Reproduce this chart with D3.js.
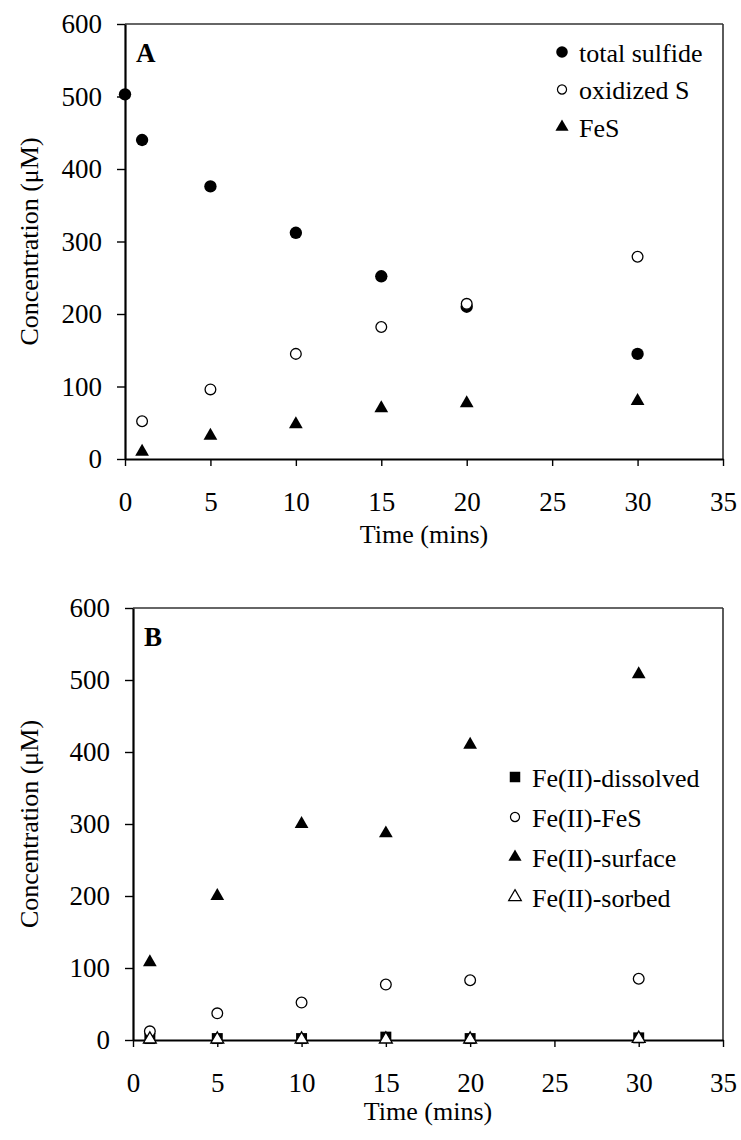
<!DOCTYPE html>
<html><head><meta charset="utf-8">
<script src="https://cdn.jsdelivr.net/npm/d3@7"></script>
<style>body{margin:0;background:#fff}svg{display:block}text{font-family:"Liberation Serif","Times New Roman",serif;fill:#000}</style>
</head><body><svg id="c" width="741" height="1140"></svg>
<script>
const times = [0, 1, 5, 10, 15, 20, 30];
const xTicks = [0, 5, 10, 15, 20, 25, 30, 35];
const yTicks = [0, 100, 200, 300, 400, 500, 600];
// Panel A
const totalSulfideT = [0, 1, 5, 10, 15, 20, 30];
const totalSulfide = [503, 440, 376, 312, 252, 210, 145];
const oxidizedST = [1, 5, 10, 15, 20, 30];
const oxidizedS = [52, 96, 145, 182, 214, 279];
const fesT = [1, 5, 10, 15, 20, 30];
const fes = [10, 32, 48, 70, 77, 80];
// Panel B
const bT = [1, 5, 10, 15, 20, 30];
const fe2Dissolved = [2, 2, 2, 4, 2, 3];
const fe2FeS = [12, 37, 52, 77, 83, 85];
const fe2Surface = [108, 200, 300, 287, 410, 508];
const fe2Sorbed = [1, 1, 1, 1, 1, 2];
const legendA = ["total sulfide", "oxidized S", "FeS"];
const legendB = ["Fe(II)-dissolved", "Fe(II)-FeS", "Fe(II)-surface", "Fe(II)-sorbed"];

const svg = d3.select("#c");

const styles = {
  fcircle: {type: d3.symbolCircle, size: 120, fill: "#000", stroke: "none"},
  ocircle: {type: d3.symbolCircle, size: 90, fill: "#fff", stroke: "#000"},
  ftri: {type: d3.symbolTriangle, size: 82, fill: "#000", stroke: "none"},
  otri: {type: d3.symbolTriangle, size: 72, fill: "#fff", stroke: "#000"},
  fsquare: {type: d3.symbolSquare, size: 120, fill: "#000", stroke: "none"}
};
const legStyles = {
  fcircle: {type: d3.symbolCircle, size: 105, fill: "#000", stroke: "none"},
  ocircle: {type: d3.symbolCircle, size: 65, fill: "#fff", stroke: "#000"},
  ftri: {type: d3.symbolTriangle, size: 75, fill: "#000", stroke: "none"},
  otri: {type: d3.symbolTriangle, size: 70, fill: "#fff", stroke: "#000"},
  fsquare: {type: d3.symbolSquare, size: 110, fill: "#000", stroke: "none"}
};

function panel(cfg) {
  const x = d3.scaleLinear().domain([0, 35]).range([cfg.left, cfg.right]);
  const y = d3.scaleLinear().domain([0, 600]).range([cfg.bottom, cfg.top]);
  const g = svg.append("g");
  g.append("line").attr("x1", cfg.left).attr("x2", cfg.right).attr("y1", cfg.top).attr("y2", cfg.top).attr("stroke", "#333").attr("stroke-width", 1.6);
  g.append("line").attr("x1", cfg.right).attr("x2", cfg.right).attr("y1", cfg.top).attr("y2", cfg.bottom).attr("stroke", "#333").attr("stroke-width", 1.6);
  const xa = g.append("g").attr("transform", `translate(0,${cfg.bottom})`)
    .call(d3.axisBottom(x).tickValues(xTicks).tickSize(7).tickPadding(26).tickSizeOuter(0));
  const ya = g.append("g").attr("transform", `translate(${cfg.left},0)`)
    .call(d3.axisLeft(y).tickValues(yTicks).tickSize(8).tickPadding(15).tickSizeOuter(0));
  [xa, ya].forEach(a => {
    a.select(".domain").attr("stroke", "#000").attr("stroke-width", 2.2);
    a.selectAll(".tick line").attr("stroke", "#000").attr("stroke-width", 1.4);
    a.selectAll("text").style("font-family", '"Liberation Serif","Times New Roman",serif').style("font-size", "27px").attr("fill", "#000");
  });
  g.append("text").attr("x", (cfg.left + cfg.right) / 2).attr("y", cfg.bottom + cfg.titleOff)
    .attr("text-anchor", "middle").style("font-size", "26px").text("Time (mins)");
  g.append("text").attr("transform", `translate(${cfg.ytx},${(cfg.top + cfg.bottom) / 2}) rotate(-90)`)
    .attr("text-anchor", "middle").attr("dy", "0.35em").style("font-size", "26px").text("Concentration (μM)");
  g.append("text").attr("x", cfg.left + 11).attr("y", cfg.top + 38)
    .style("font-size", "27px").style("font-weight", "bold").text(cfg.label);
  cfg.series.forEach(s => {
    const st = styles[s.sty];
    const sym = d3.symbol().type(st.type).size(st.size);
    g.selectAll(null).data(s.v.map((v, i) => [s.t[i], v])).enter().append("path")
      .attr("d", sym).attr("transform", d => `translate(${x(d[0])},${y(d[1])})`)
      .attr("fill", st.fill).attr("stroke", st.stroke).attr("stroke-width", 1.3);
  });
  cfg.series.forEach((s, i) => {
    const st = legStyles[s.sty];
    const yy = cfg.legY + i * cfg.legDy;
    g.append("path").attr("d", d3.symbol().type(st.type).size(st.size))
      .attr("transform", `translate(${cfg.legX},${yy})`)
      .attr("fill", st.fill).attr("stroke", st.stroke).attr("stroke-width", 1.2);
    g.append("text").attr("x", cfg.legX + 17).attr("y", yy).attr("dy", "0.38em")
      .style("font-size", "26px").text(s.name);
  });
}

panel({
  left: 125, right: 723, top: 24, bottom: 459, ytx: 29, label: "A", titleOff: 84,
  legX: 562, legY: 52, legDy: 37.5,
  series: [
    {name: legendA[0], t: totalSulfideT, v: totalSulfide, sty: "fcircle"},
    {name: legendA[1], t: oxidizedST, v: oxidizedS, sty: "ocircle"},
    {name: legendA[2], t: fesT, v: fes, sty: "ftri"}
  ]
});
panel({
  left: 133, right: 723, top: 608, bottom: 1040, ytx: 29, label: "B", titleOff: 80,
  legX: 515, legY: 777, legDy: 40,
  series: [
    {name: legendB[0], t: bT, v: fe2Dissolved, sty: "fsquare"},
    {name: legendB[1], t: bT, v: fe2FeS, sty: "ocircle"},
    {name: legendB[2], t: bT, v: fe2Surface, sty: "ftri"},
    {name: legendB[3], t: bT, v: fe2Sorbed, sty: "otri"}
  ]
});
</script></body></html>
